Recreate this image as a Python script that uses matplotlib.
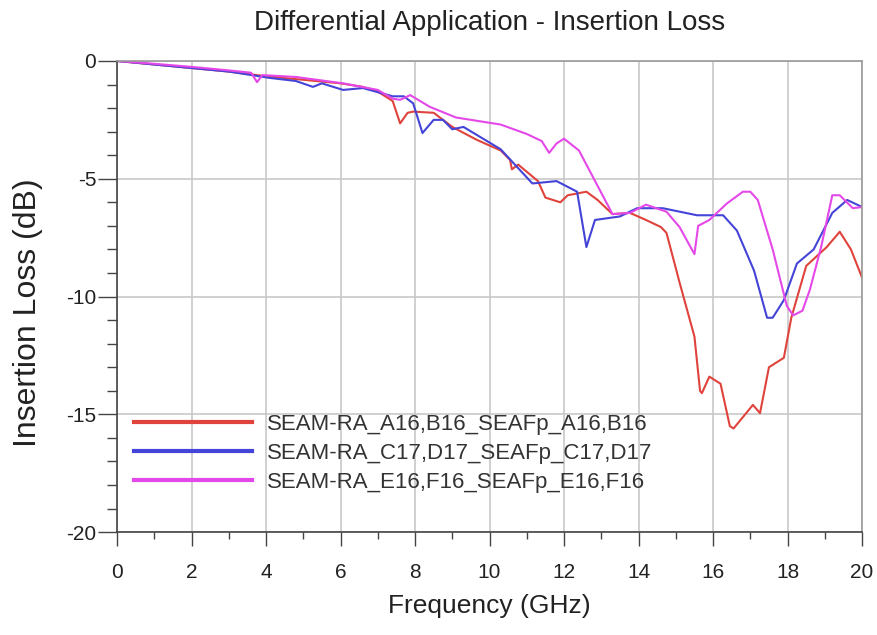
import matplotlib
matplotlib.use("Agg")
import matplotlib.pyplot as plt
from matplotlib.ticker import MultipleLocator

plt.rcParams['font.family'] = ['Liberation Sans', 'DejaVu Sans']
plt.rcParams['axes.unicode_minus'] = False

# ---- data ----
red_f = [0, 1, 2, 3, 4, 5, 6, 6.6, 7.0, 7.4, 7.6, 7.8, 7.95, 8.5, 9.0, 9.66, 10.3, 10.55, 10.6, 10.77,
         11.3, 11.5, 11.9, 12.1, 12.6, 12.9, 13.3, 13.77, 14.2, 14.6, 14.75, 15.1, 15.5, 15.65, 15.7,
         15.9, 16.2, 16.45, 16.55, 17.07, 17.26, 17.5, 17.9, 18.1, 18.5, 19.05, 19.4, 19.7, 20]
red_v = [0, -0.15, -0.3, -0.45, -0.65, -0.8, -0.95, -1.1, -1.3, -1.7, -2.65, -2.2, -2.15, -2.2, -2.8, -3.35,
         -3.8, -4.2, -4.6, -4.4, -5.1, -5.8, -6.0, -5.7, -5.55, -5.9, -6.5, -6.45, -6.75, -7.05, -7.3,
         -9.4, -11.7, -14.0, -14.1, -13.4, -13.7, -15.5, -15.6, -14.6, -14.95, -13.0, -12.6, -10.9,
         -8.7, -7.9, -7.25, -8.0, -9.2]

blue_f = [0, 1, 2, 3, 4.1, 4.8, 5.26, 5.5, 6.07, 6.6, 7.4, 7.7, 7.95, 8.2, 8.5, 8.75, 9.0, 9.3, 10.3,
          11.15, 11.8, 12.35, 12.6, 12.83, 13.05, 13.5, 13.96, 14.65, 15.57, 16.27, 16.64, 17.1, 17.45,
          17.6, 17.9, 18.25, 18.7, 19.2, 19.6, 20]
blue_v = [0, -0.15, -0.3, -0.45, -0.72, -0.85, -1.1, -0.95, -1.23, -1.15, -1.5, -1.5, -1.8, -3.06, -2.5,
          -2.5, -2.9, -2.8, -3.75, -5.2, -5.1, -5.55, -7.9, -6.75, -6.7, -6.6, -6.25, -6.25, -6.55,
          -6.55, -7.2, -8.9, -10.9, -10.9, -10.15, -8.6, -8.0, -6.45, -5.9, -6.2]

mag_f = [0, 1, 2, 3, 3.6, 3.76, 3.9, 4.8, 6.07, 7.0, 7.4, 7.6, 7.87, 8.4, 9.1, 10.3, 11.0, 11.4, 11.6,
         11.8, 12.0, 12.4, 12.9, 13.3, 13.77, 14.2, 14.75, 15.1, 15.5, 15.6, 15.9, 16.37, 16.8, 17.0,
         17.2, 17.6, 17.98, 18.15, 18.4, 18.6, 18.9, 19.2, 19.4, 19.75, 20]
mag_v = [0, -0.12, -0.25, -0.4, -0.5, -0.9, -0.6, -0.68, -0.95, -1.23, -1.6, -1.65, -1.45, -1.95, -2.4,
         -2.7, -3.1, -3.4, -3.9, -3.5, -3.3, -3.8, -5.3, -6.5, -6.45, -6.1, -6.4, -7.05, -8.2, -7.0,
         -6.75, -6.05, -5.55, -5.55, -5.9, -8.0, -10.4, -10.8, -10.6, -9.7, -7.9, -5.7, -5.7, -6.25, -6.2]

labels = ["SEAM-RA_A16,B16_SEAFp_A16,B16",
          "SEAM-RA_C17,D17_SEAFp_C17,D17",
          "SEAM-RA_E16,F16_SEAFp_E16,F16"]
colors = ["#e0433c", "#4444d8", "#e448e8"]

# ---- figure ----
fig = plt.figure(figsize=(8.77, 6.35), dpi=100)
ax = fig.add_axes([0.1334, 0.162, 0.983 - 0.1334, 0.904 - 0.162])

for f, v, lab, c in zip([red_f, blue_f, mag_f], [red_v, blue_v, mag_v], labels, colors):
    ax.plot(f, v, color=c, lw=1.5, label=lab)

ax.set_xlim(0, 20)
ax.set_ylim(-20, 0)
ax.xaxis.set_major_locator(MultipleLocator(2))
ax.xaxis.set_minor_locator(MultipleLocator(1))
ax.yaxis.set_major_locator(MultipleLocator(5))
ax.yaxis.set_minor_locator(MultipleLocator(1))
ax.grid(True, which='major', color='#c8c8c8', lw=1.2)
ax.tick_params(axis='x', which='major', length=10, width=1, color='#444444', labelsize=15,
               pad=12, labelcolor='#222222')
ax.tick_params(axis='x', which='minor', length=5, width=1, color='#444444')
ax.tick_params(axis='y', which='major', length=14, width=1, color='#444444', labelsize=15,
               pad=1, labelcolor='#222222')
ax.tick_params(axis='y', which='minor', length=7, width=1, color='#444444')
for s in ['left', 'bottom']:
    ax.spines[s].set_color('#444444')
    ax.spines[s].set_linewidth(1.2)
for s in ['top', 'right']:
    ax.spines[s].set_color('#999999')
    ax.spines[s].set_linewidth(1.2)

ax.set_title("Differential Application - Insertion Loss", fontsize=20, pad=22, color='#222222')
ax.set_xlabel("Frequency (GHz)", fontsize=19, labelpad=9, color='#222222')
ax.set_ylabel("Insertion Loss (dB)", fontsize=23, color='#222222')
ax.yaxis.set_label_coords(-0.099, 0.465)

leg = ax.legend(loc='upper left', bbox_to_anchor=(-0.004, 0.294), frameon=False,
                fontsize=16, handlelength=5.3, handletextpad=0.7, labelspacing=0.36,
                borderaxespad=0.5)
for line in leg.get_lines():
    line.set_linewidth(3)
for t in leg.get_texts():
    t.set_color('#333333')

fig.savefig("out.png", dpi=100)
